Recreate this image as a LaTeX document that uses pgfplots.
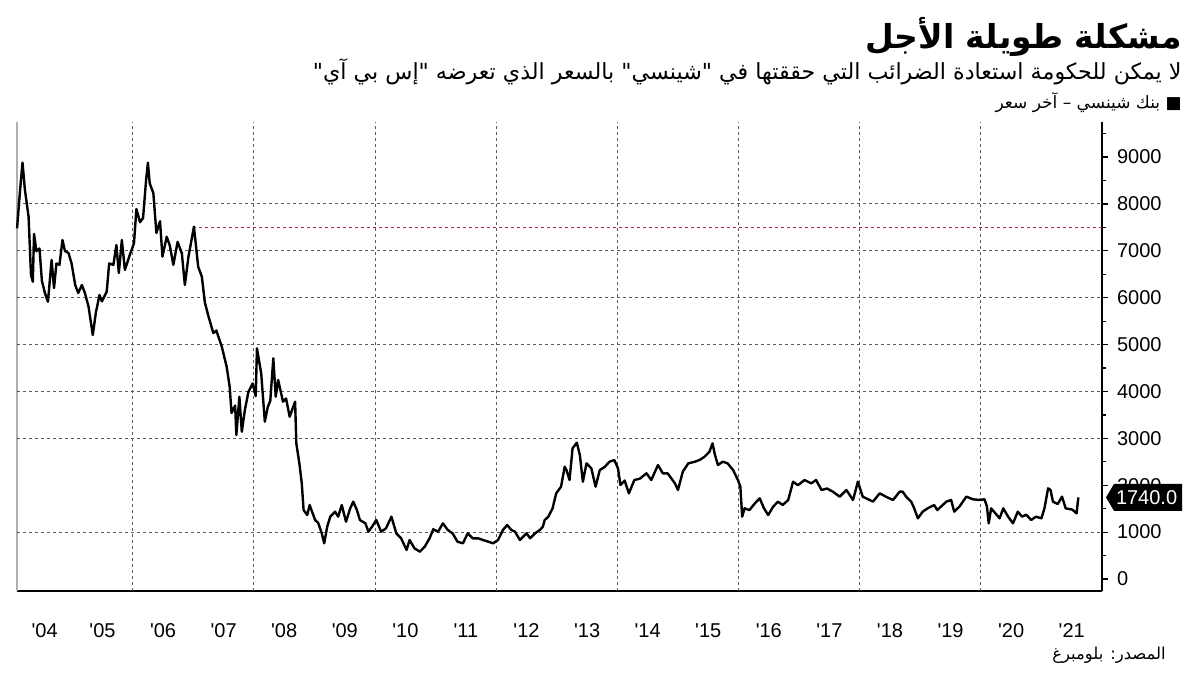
\documentclass[border=0pt]{standalone}
\usepackage{pgfplots}
\pgfplotsset{compat=1.18}
\usepackage{fontspec}
\setmainfont{Liberation Sans}[Ligatures=TeXOff]
\newfontfamily\arabicfont[Script=Arabic]{DejaVu Sans}
\TeXXeTstate=1
\definecolor{gridc}{RGB}{90,90,90}
\definecolor{sepc}{RGB}{175,175,175}
\definecolor{refred}{RGB}{170,40,70}

% x = years since 2000
\pgfplotstableread{
x y
4.09 7480
4.14 8300
4.18 8880
4.22 8296
4.28 7727
4.32 6483
4.35 6340
4.37 7360
4.41 6990
4.46 7050
4.50 6360
4.55 6099
4.60 5914
4.66 6803
4.70 6206
4.74 6730
4.79 6700
4.84 7230
4.88 7000
4.94 6950
4.99 6730
5.05 6270
5.10 6100
5.16 6270
5.21 6100
5.27 5808
5.34 5204
5.39 5673
5.45 6057
5.49 5920
5.57 6127
5.61 6730
5.68 6700
5.73 7123
5.77 6526
5.82 7230
5.87 6590
5.95 6910
6.02 7160
6.06 7890
6.12 7610
6.17 7700
6.22 8510
6.25 8880
6.28 8440
6.34 8230
6.39 7380
6.45 7630
6.49 6875
6.56 7300
6.61 7120
6.67 6700
6.74 7190
6.81 6950
6.86 6270
6.92 6880
6.97 7230
7.01 7515
7.08 6660
7.14 6450
7.19 5900
7.25 5600
7.33 5246
7.38 5300
7.47 4954
7.55 4527
7.60 4100
7.63 3540
7.69 3700
7.71 3071
7.76 3888
7.80 3140
7.85 3600
7.91 3995
7.98 4170
8.03 3900
8.05 4920
8.12 4390
8.18 3355
8.23 3675
8.27 3800
8.32 4707
8.36 3888
8.40 4246
8.48 3782
8.53 3850
8.59 3462
8.68 3782
8.70 2893
8.75 2467
8.79 2040
8.82 1471
8.88 1365
8.92 1578
9.01 1258
9.06 1200
9.12 974
9.16 761
9.21 1116
9.26 1329
9.34 1436
9.39 1329
9.45 1578
9.52 1222
9.59 1507
9.64 1649
9.70 1471
9.75 1258
9.84 1187
9.89 1009
9.95 1116
10.02 1258
10.10 1009
10.18 1080
10.27 1329
10.35 974
10.43 868
10.52 619
10.57 832
10.65 654
10.74 583
10.82 690
10.90 868
10.96 1060
11.04 1009
11.12 1187
11.20 1045
11.28 974
11.36 796
11.45 761
11.53 974
11.61 868
11.70 868
11.78 832
11.86 800
11.95 761
12.03 832
12.11 1045
12.18 1151
12.25 1045
12.31 1009
12.39 832
12.50 974
12.56 868
12.64 974
12.72 1045
12.77 1116
12.80 1258
12.86 1329
12.93 1507
12.99 1827
13.07 1969
13.13 2395
13.16 2324
13.21 2111
13.26 2786
13.33 2907
13.38 2650
13.43 2075
13.49 2466
13.57 2360
13.64 1969
13.71 2324
13.79 2390
13.87 2502
13.95 2537
14.01 2360
14.05 2005
14.12 2100
14.19 1827
14.28 2111
14.37 2140
14.48 2254
14.56 2111
14.67 2431
14.75 2254
14.83 2254
14.95 2040
15.00 1898
15.08 2289
15.17 2466
15.28 2502
15.36 2540
15.44 2609
15.52 2715
15.57 2893
15.61 2650
15.66 2431
15.74 2502
15.82 2466
15.91 2324
15.99 2111
16.03 1969
16.06 1329
16.10 1507
16.18 1470
16.27 1614
16.35 1720
16.42 1507
16.49 1365
16.57 1540
16.65 1649
16.73 1580
16.82 1685
16.90 2075
16.98 2000
17.09 2111
17.20 2040
17.28 2111
17.37 1898
17.46 1930
17.56 1860
17.67 1756
17.78 1898
17.89 1685
17.97 2075
18.05 1756
18.14 1700
18.22 1650
18.33 1827
18.44 1750
18.55 1685
18.66 1862
18.71 1862
18.77 1750
18.85 1650
18.90 1507
18.96 1294
19.04 1436
19.12 1507
19.23 1578
19.28 1470
19.43 1649
19.51 1685
19.56 1436
19.65 1550
19.76 1756
19.87 1700
19.98 1685
20.06 1700
20.10 1550
20.13 1187
20.17 1507
20.24 1400
20.31 1294
20.37 1507
20.45 1330
20.53 1187
20.61 1436
20.68 1330
20.75 1370
20.83 1258
20.91 1330
21.00 1294
21.05 1507
21.11 1934
21.15 1900
21.19 1649
21.27 1600
21.34 1756
21.40 1507
21.51 1480
21.58 1400
21.61 1740
}\shinsei

\begin{document}
\begin{tikzpicture}
\path[use as bounding box] (0,0) rectangle (600pt,337.5pt);

% titles (Arabic, right aligned)
\node[anchor=east, inner sep=0pt, font=\arabicfont\bfseries\fontsize{16.5}{20}\selectfont]
  at (591pt,319pt) {\beginR مشكلة طويلة الأجل\endR};
\node[anchor=east, inner sep=0pt, font=\arabicfont\fontsize{11.1}{14}\selectfont]
  at (591pt,301.5pt) {\beginR لا يمكن للحكومة استعادة الضرائب التي حققتها في "شينسي" بالسعر الذي تعرضه "إس بي آي"\endR};
\node[anchor=east, inner sep=0pt, font=\arabicfont\fontsize{8.5}{10}\selectfont]
  at (591pt,286pt) {\beginR ■ بنك شينسي – آخر سعر\endR};
\node[anchor=east, inner sep=0pt, font=\arabicfont\fontsize{8.2}{10}\selectfont]
  at (583pt,10pt) {\beginR المصدر: بلومبرغ\endR};

\begin{axis}[
  at={(8.5pt,42pt)}, anchor=south west,
  scale only axis, width=542.5pt, height=234.5pt,
  xmin=4.089, xmax=22, ymin=-256, ymax=9747,
  clip=false,
  axis x line*=bottom, axis y line*=right,
  axis line style={line width=0.6pt},
  /pgf/number format/assume math mode=true,
  /pgf/number format/1000 sep={},
  ticklabel style={font=\fontsize{10}{12}\selectfont},
  ytick={0,1000,...,9000}, minor ytick={500,1500,...,9500},
  y tick style={black, line width=0.6pt},
  tick align=outside, major tick length=3pt, minor tick length=2pt,
  yticklabel style={xshift=1pt},
  xtick={4.545,5.5,6.5,...,21.5},
  xticklabels={'04,'05,'06,'07,'08,'09,'10,'11,'12,'13,'14,'15,'16,'17,'18,'19,'20,'21},
  x tick style={draw=none},
  xticklabel style={yshift=-9pt, text height=7.5pt, text depth=1pt},
  extra x ticks={5,6,...,22},
  extra x tick labels={},
  extra x tick style={major tick length=24.5pt, tick align=outside,
    tick style={draw=sepc, line width=0.6pt}},
]
% left frame line
\draw[sepc, line width=0.6pt] (rel axis cs:0,0) -- (rel axis cs:0,1);
% grid
\pgfplotsinvokeforeach{1000,3000,4000,5000,6000,7000,8000}{
  \draw[gridc, line width=0.5pt, dash pattern=on 1.5pt off 1.5pt] (axis cs:4.089,#1) -- (axis cs:22,#1);
}
\pgfplotsinvokeforeach{6,8,10,12,14,16,18,20}{
  \draw[gridc, line width=0.5pt, dash pattern=on 1.5pt off 1.5pt] (axis cs:#1,-256) -- (axis cs:#1,9747);
}
\draw[refred, line width=0.5pt, dash pattern=on 1.5pt off 1.5pt] (axis cs:7,7500) -- (axis cs:22,7500);

\addplot[black, line width=1.2pt, line join=round] table {\shinsei};

% last value tag
\fill[black] ([xshift=2pt]axis cs:22,1740)
  -- ([xshift=6pt,yshift=6.75pt]axis cs:22,1740)
  -- ([xshift=40pt,yshift=6.75pt]axis cs:22,1740)
  -- ([xshift=40pt,yshift=-6.75pt]axis cs:22,1740)
  -- ([xshift=6pt,yshift=-6.75pt]axis cs:22,1740) -- cycle;
\node[white, anchor=west, inner sep=0pt, font=\fontsize{10}{12}\selectfont]
  at ([xshift=6.8pt]axis cs:22,1740) {1740.0};
\end{axis}
\end{tikzpicture}
\end{document}
